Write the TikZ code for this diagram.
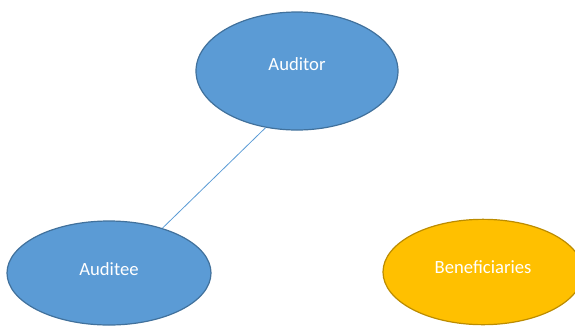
\documentclass[tikz,border=0pt]{standalone}
\usepackage{fontspec}
\setmainfont{Carlito}
\usetikzlibrary{shapes.geometric}
\definecolor{bluefill}{HTML}{5B9BD5}
\definecolor{blueedge}{HTML}{41719C}
\definecolor{orangefill}{HTML}{FFC000}
\definecolor{orangeedge}{HTML}{BC8C00}
\tikzset{
  ellbox/.style={ellipse, inner sep=0pt, line width=0.9pt},
  bluebox/.style={ellbox, fill=bluefill, draw=blueedge},
  orangebox/.style={ellbox, fill=orangefill, draw=orangeedge},
  lbl/.style={text=white, font=\fontsize{14pt}{16pt}\selectfont, anchor=base, inner sep=0pt},
  link/.style={draw=bluefill, line width=0.6pt}
}
\begin{document}
\begin{tikzpicture}[x=0.75pt,y=-0.75pt]
\useasboundingbox (0,0) rectangle (575,326);
\node[bluebox, minimum width=151.5pt, minimum height=88.5pt] (auditor) at (297,71) {};
\node[bluebox, minimum width=153pt, minimum height=78pt] (auditee) at (109,273) {};
\node[orangebox, minimum width=150pt, minimum height=79pt] (benef) at (483,272) {};
\node[lbl] (tauditor) at (297,70.7) {Auditor};
\node[lbl] (tauditee) at (109,275) {Auditee};
\node[lbl] (tbenef) at (483,273.3) {Beneficiaries};
\draw[link] (auditor.241) -- (auditee.40);
\end{tikzpicture}
\end{document}
